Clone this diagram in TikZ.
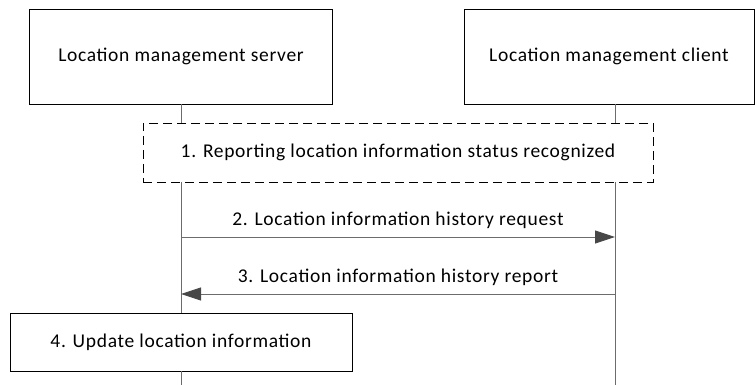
\documentclass[tikz,border=0pt]{standalone}
\usepackage{fontspec}
\setmainfont{Carlito}[LetterSpace=3.5]
\usetikzlibrary{arrows.meta}
\begin{document}
\begin{tikzpicture}[
  x=1pt,y=-1pt,
  entity/.style={draw=black,line width=0.8pt,fill=white,minimum height=95pt,font=\fontsize{19.5}{22}\selectfont},
  stepbox/.style={draw=black,line width=0.8pt,fill=white,font=\fontsize{19.5}{22}\selectfont},
  life/.style={draw=gray!85!black,line width=0.9pt},
  msg/.style={draw=gray!85!black,line width=0.9pt,-{Triangle[length=20pt,width=13pt,color=black!72]}},
  msglbl/.style={font=\fontsize{19.5}{22}\selectfont,anchor=south},
]
\useasboundingbox (0,0) rectangle (755,385);

% ----- Entities -----
\node[entity,minimum width=303pt] (srv) at (181,56.5) {Location management server};
\node[entity,minimum width=290pt] (cli) at (609,56.5) {Location management client};

% ----- Step 1: dashed box across both lifelines -----
\node[stepbox,dashed,dash pattern=on 9pt off 5pt,minimum width=510pt,minimum height=59pt]
  (rep) at (398,152.5) {1. Reporting location information status recognized};

% ----- Step 4: local box on the server lifeline -----
\node[stepbox,minimum width=342pt,minimum height=58pt]
  (upd) at (181,342) {4. Update location information};

% ----- Lifelines -----
\coordinate (srvEnd) at (181,385);
\coordinate (cliEnd) at (615,385);
\coordinate (s2) at (181,237);
\coordinate (c2) at (615,237);
\coordinate (s3) at (181,294);
\coordinate (c3) at (615,294);
\draw[life] (srv.south) -- (srv.south |- rep.north);
\draw[life] (615,104) -- (615,123);
\draw[life] (srv.south |- rep.south) -- (upd.north);
\draw[life] (upd.south) -- (srvEnd);
\draw[life] (615,182) -- (cliEnd);

% ----- Messages -----
\draw[msg] (s2) -- node[msglbl,yshift=5pt] {2. Location information history request} (c2);
\draw[msg] (c3) -- node[msglbl,yshift=5pt] {3. Location information history report} (s3);

\end{tikzpicture}
\end{document}
